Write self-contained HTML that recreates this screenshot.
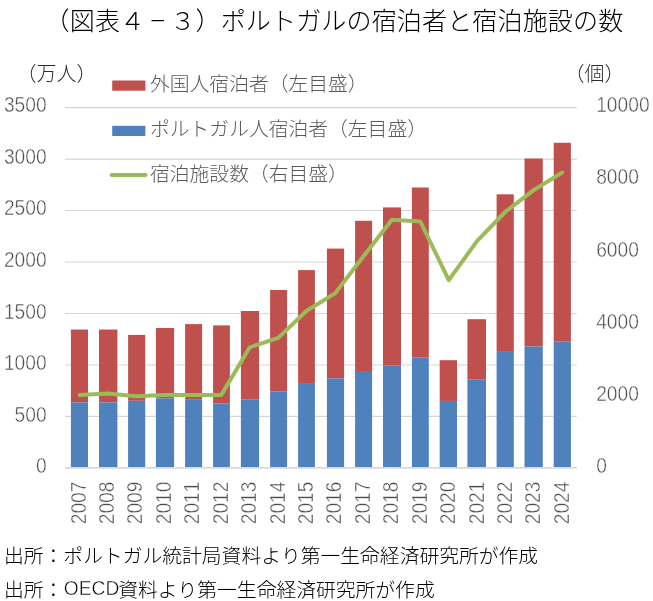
<!DOCTYPE html>
<html lang="ja"><head><meta charset="utf-8"><title>ポルトガルの宿泊者と宿泊施設の数</title>
<style>
html,body{margin:0;padding:0;background:#fff;}
body{width:653px;height:601px;overflow:hidden;position:relative;}
svg{display:block;position:absolute;left:0;top:0;will-change:transform;}
text{font-kerning:none;font-family:"Liberation Sans","Noto Sans CJK JP",sans-serif;font-weight:300;}
.ax{fill:#4c4c4c;font-size:21.3px;stroke:#fff;stroke-width:0.45px;}
.lg{fill:#595959;font-size:19.8px;}
.ttl{fill:#000;font-size:25.05px;letter-spacing:0.12px;}
.unit{fill:#2b2b2b;font-size:20px;}
.ft{fill:#000;font-size:19.8px;}
.lat{stroke:#fff;stroke-width:0.5px;}
</style></head><body>
<svg width="653" height="601" viewBox="0 0 653 601">
<rect width="653" height="601" fill="#fff"/>
<line x1="65.0" x2="576.7" y1="416.43" y2="416.43" stroke="#d5d5d5" stroke-width="1.15"/>
<line x1="65.0" x2="576.7" y1="364.96" y2="364.96" stroke="#d5d5d5" stroke-width="1.15"/>
<line x1="65.0" x2="576.7" y1="313.49" y2="313.49" stroke="#d5d5d5" stroke-width="1.15"/>
<line x1="65.0" x2="576.7" y1="262.01" y2="262.01" stroke="#d5d5d5" stroke-width="1.15"/>
<line x1="65.0" x2="576.7" y1="210.54" y2="210.54" stroke="#d5d5d5" stroke-width="1.15"/>
<line x1="65.0" x2="576.7" y1="159.07" y2="159.07" stroke="#d5d5d5" stroke-width="1.15"/>
<line x1="65.0" x2="576.7" y1="107.60" y2="107.60" stroke="#d5d5d5" stroke-width="1.15"/>
<rect x="70.90" y="329.55" width="17.10" height="72.85" fill="#c0504d"/>
<rect x="70.90" y="402.40" width="17.10" height="65.50" fill="#4f81bd"/>
<rect x="99.00" y="329.55" width="18.40" height="72.85" fill="#c0504d"/>
<rect x="99.00" y="402.40" width="18.40" height="65.50" fill="#4f81bd"/>
<rect x="128.10" y="334.90" width="17.10" height="65.90" fill="#c0504d"/>
<rect x="128.10" y="400.80" width="17.10" height="67.10" fill="#4f81bd"/>
<rect x="155.90" y="327.95" width="18.20" height="70.45" fill="#c0504d"/>
<rect x="155.90" y="398.40" width="18.20" height="69.50" fill="#4f81bd"/>
<rect x="185.10" y="324.10" width="17.00" height="75.70" fill="#c0504d"/>
<rect x="185.10" y="399.80" width="17.00" height="68.10" fill="#4f81bd"/>
<rect x="213.10" y="325.40" width="16.80" height="78.20" fill="#c0504d"/>
<rect x="213.10" y="403.60" width="16.80" height="64.30" fill="#4f81bd"/>
<rect x="240.90" y="311.00" width="18.20" height="88.70" fill="#c0504d"/>
<rect x="240.90" y="399.70" width="18.20" height="68.20" fill="#4f81bd"/>
<rect x="270.10" y="289.95" width="17.00" height="101.65" fill="#c0504d"/>
<rect x="270.10" y="391.60" width="17.00" height="76.30" fill="#4f81bd"/>
<rect x="298.10" y="270.10" width="16.80" height="113.80" fill="#c0504d"/>
<rect x="298.10" y="383.90" width="16.80" height="84.00" fill="#4f81bd"/>
<rect x="326.90" y="248.60" width="17.20" height="129.80" fill="#c0504d"/>
<rect x="326.90" y="378.40" width="17.20" height="89.50" fill="#4f81bd"/>
<rect x="355.10" y="220.80" width="17.00" height="151.15" fill="#c0504d"/>
<rect x="355.10" y="371.95" width="17.00" height="95.95" fill="#4f81bd"/>
<rect x="383.00" y="207.40" width="18.00" height="158.10" fill="#c0504d"/>
<rect x="383.00" y="365.50" width="18.00" height="102.40" fill="#4f81bd"/>
<rect x="411.90" y="187.50" width="16.90" height="170.10" fill="#c0504d"/>
<rect x="411.90" y="357.60" width="16.90" height="110.30" fill="#4f81bd"/>
<rect x="439.70" y="360.20" width="17.30" height="40.75" fill="#c0504d"/>
<rect x="439.70" y="400.95" width="17.30" height="66.95" fill="#4f81bd"/>
<rect x="467.40" y="319.20" width="18.60" height="60.50" fill="#c0504d"/>
<rect x="467.40" y="379.70" width="18.60" height="88.20" fill="#4f81bd"/>
<rect x="496.60" y="194.30" width="17.20" height="157.60" fill="#c0504d"/>
<rect x="496.60" y="351.90" width="17.20" height="116.00" fill="#4f81bd"/>
<rect x="524.50" y="158.55" width="18.30" height="187.95" fill="#c0504d"/>
<rect x="524.50" y="346.50" width="18.30" height="121.40" fill="#4f81bd"/>
<rect x="553.70" y="142.80" width="17.20" height="198.50" fill="#c0504d"/>
<rect x="553.70" y="341.30" width="17.20" height="126.60" fill="#4f81bd"/>
<line x1="65.0" x2="576.7" y1="467.9" y2="467.9" stroke="#d9d9d9" stroke-width="1.7"/>
<polyline points="79.81,395.05 107.64,393.50 136.07,396.20 164.50,395.00 192.93,395.00 221.35,394.90 249.78,347.30 278.21,337.90 306.64,310.80 335.06,293.40 363.49,256.30 391.92,219.85 420.35,221.50 448.78,280.20 477.20,240.80 505.63,211.50 534.06,189.90 562.19,172.50" fill="none" stroke="#9bbb59" stroke-width="4" stroke-linejoin="round" stroke-linecap="round"/>
<rect x="112.2" y="80.5" width="33.2" height="10.2" fill="#c0504d"/>
<rect x="112.2" y="125.8" width="33.2" height="10.2" fill="#4f81bd"/>
<line x1="111.6" x2="145.7" y1="175" y2="175" stroke="#9bbb59" stroke-width="4" stroke-linecap="round"/>
<text class="lg" x="150" y="91">外国人宿泊者（左目盛）</text>
<text class="lg" x="150" y="136">ポルトガル人宿泊者（左目盛）</text>
<text class="lg" x="150" y="181">宿泊施設数（右目盛）</text>
<text class="ttl" x="44.6" y="29.6">（図表４<tspan dx="4.0" textLength="17.1" lengthAdjust="spacingAndGlyphs">－</tspan><tspan dx="4.0">３）ポルトガルの宿泊者と宿泊施設の数</tspan></text>
<text class="unit" x="16.6" y="81">（万人）</text>
<text class="unit" x="564.5" y="81">（個）</text>
<text class="ax" x="35.92" y="473.40" textLength="10.68" lengthAdjust="spacingAndGlyphs">0</text>
<text class="ax" x="14.56" y="421.79" textLength="32.04" lengthAdjust="spacingAndGlyphs">500</text>
<text class="ax" x="3.88" y="370.17" textLength="42.72" lengthAdjust="spacingAndGlyphs">1000</text>
<text class="ax" x="3.88" y="318.56" textLength="42.72" lengthAdjust="spacingAndGlyphs">1500</text>
<text class="ax" x="3.88" y="266.94" textLength="42.72" lengthAdjust="spacingAndGlyphs">2000</text>
<text class="ax" x="3.88" y="215.33" textLength="42.72" lengthAdjust="spacingAndGlyphs">2500</text>
<text class="ax" x="3.88" y="163.71" textLength="42.72" lengthAdjust="spacingAndGlyphs">3000</text>
<text class="ax" x="3.88" y="112.10" textLength="42.72" lengthAdjust="spacingAndGlyphs">3500</text>
<text class="ax" x="596.2" y="473.40" textLength="10.68" lengthAdjust="spacingAndGlyphs">0</text>
<text class="ax" x="596.2" y="401.14" textLength="42.72" lengthAdjust="spacingAndGlyphs">2000</text>
<text class="ax" x="596.2" y="328.88" textLength="42.72" lengthAdjust="spacingAndGlyphs">4000</text>
<text class="ax" x="596.2" y="256.62" textLength="42.72" lengthAdjust="spacingAndGlyphs">6000</text>
<text class="ax" x="596.2" y="184.36" textLength="42.72" lengthAdjust="spacingAndGlyphs">8000</text>
<text class="ax" x="596.2" y="112.10" textLength="53.40" lengthAdjust="spacingAndGlyphs">10000</text>
<text class="ax" transform="translate(85.51,524.3) rotate(-90)" textLength="42.72" lengthAdjust="spacingAndGlyphs">2007</text>
<text class="ax" transform="translate(113.94,524.3) rotate(-90)" textLength="42.72" lengthAdjust="spacingAndGlyphs">2008</text>
<text class="ax" transform="translate(142.37,524.3) rotate(-90)" textLength="42.72" lengthAdjust="spacingAndGlyphs">2009</text>
<text class="ax" transform="translate(170.80,524.3) rotate(-90)" textLength="42.72" lengthAdjust="spacingAndGlyphs">2010</text>
<text class="ax" transform="translate(199.23,524.3) rotate(-90)" textLength="42.72" lengthAdjust="spacingAndGlyphs">2011</text>
<text class="ax" transform="translate(227.65,524.3) rotate(-90)" textLength="42.72" lengthAdjust="spacingAndGlyphs">2012</text>
<text class="ax" transform="translate(256.08,524.3) rotate(-90)" textLength="42.72" lengthAdjust="spacingAndGlyphs">2013</text>
<text class="ax" transform="translate(284.51,524.3) rotate(-90)" textLength="42.72" lengthAdjust="spacingAndGlyphs">2014</text>
<text class="ax" transform="translate(312.94,524.3) rotate(-90)" textLength="42.72" lengthAdjust="spacingAndGlyphs">2015</text>
<text class="ax" transform="translate(341.36,524.3) rotate(-90)" textLength="42.72" lengthAdjust="spacingAndGlyphs">2016</text>
<text class="ax" transform="translate(369.79,524.3) rotate(-90)" textLength="42.72" lengthAdjust="spacingAndGlyphs">2017</text>
<text class="ax" transform="translate(398.22,524.3) rotate(-90)" textLength="42.72" lengthAdjust="spacingAndGlyphs">2018</text>
<text class="ax" transform="translate(426.65,524.3) rotate(-90)" textLength="42.72" lengthAdjust="spacingAndGlyphs">2019</text>
<text class="ax" transform="translate(455.08,524.3) rotate(-90)" textLength="42.72" lengthAdjust="spacingAndGlyphs">2020</text>
<text class="ax" transform="translate(483.50,524.3) rotate(-90)" textLength="42.72" lengthAdjust="spacingAndGlyphs">2021</text>
<text class="ax" transform="translate(511.93,524.3) rotate(-90)" textLength="42.72" lengthAdjust="spacingAndGlyphs">2022</text>
<text class="ax" transform="translate(540.36,524.3) rotate(-90)" textLength="42.72" lengthAdjust="spacingAndGlyphs">2023</text>
<text class="ax" transform="translate(568.79,524.3) rotate(-90)" textLength="42.72" lengthAdjust="spacingAndGlyphs">2024</text>
<text class="ft" x="4" y="563.4">出所：ポルトガル統計局資料より第一生命経済研究所が作成</text>
<text class="ft" x="4" y="597.4">出所：<tspan class="lat" font-size="21" dx="0.4" dy="-2" textLength="55.6" lengthAdjust="spacingAndGlyphs">OECD</tspan><tspan dx="-1.2" dy="2">資料より第一生命経済研究所が作成</tspan></text>
</svg></body></html>
